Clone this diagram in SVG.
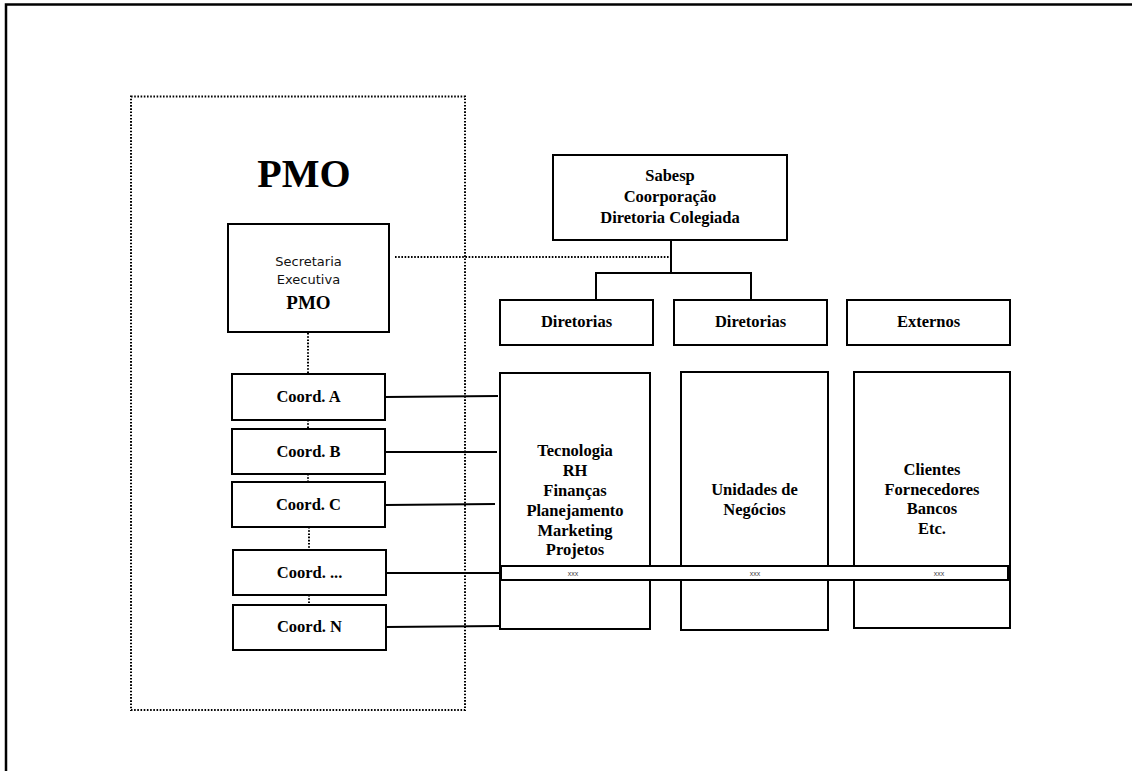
<svg xmlns="http://www.w3.org/2000/svg" width="1132" height="771" viewBox="0 0 1132 771">
  <style>
    .box { fill: #fff; stroke: #000; stroke-width: 2; }
    .solid { fill: none; stroke: #000; stroke-width: 2; }
    .dot { fill: none; stroke: #000; stroke-width: 2; stroke-dasharray: 1.6 1.6; }
    .lbl { font-family: "Liberation Serif", "Times New Roman", serif; font-weight: bold; font-size: 16.5px; text-anchor: middle; fill: #000; }
    .sans { font-family: "DejaVu Sans", Verdana, sans-serif; font-size: 13px; text-anchor: middle; fill: #111; }
    .tiny { font-family: "Liberation Sans", Arial, sans-serif; font-size: 7px; text-anchor: middle; fill: #444; }
  </style>

  <rect width="1132" height="771" fill="#fff"/>

  <!-- page frame (top and left edges) -->
  <path d="M6 771 V4.5 H1132" fill="none" stroke="#000" stroke-width="2.5"/>

  <!-- PMO area -->
  <g id="pmo-area">
    <rect x="131" y="96.5" width="334" height="613.5" class="dot"/>
    <text x="304" y="187" class="lbl" style="font-size:40px">PMO</text>
  </g>

  <!-- connectors -->
  <g id="connectors">
    <!-- Secretaria to corporate board -->
    <line x1="395" y1="257" x2="670" y2="257" class="dot"/>
    <!-- PMO chain -->
    <line x1="308" y1="333" x2="308" y2="374" class="dot"/>
    <line x1="308" y1="420" x2="308" y2="429" class="dot"/>
    <line x1="308" y1="474" x2="308" y2="482" class="dot"/>
    <line x1="309" y1="527" x2="309" y2="550" class="dot"/>
    <line x1="309" y1="595" x2="309" y2="605" class="dot"/>
    <!-- board tree -->
    <path d="M671 240 V273 M596 300 V273 H751 V300" class="solid"/>
    <!-- coordinations to areas -->
    <line x1="385" y1="397" x2="498" y2="396" class="solid"/>
    <line x1="385" y1="452" x2="497" y2="452" class="solid"/>
    <line x1="385" y1="505" x2="495" y2="504" class="solid"/>
    <line x1="386" y1="573" x2="500" y2="573" class="solid"/>
    <line x1="386" y1="627" x2="500" y2="626" class="solid"/>
  </g>

  <g id="secretaria">
    <rect x="228" y="224" width="161" height="108" class="box"/>
    <text x="308.5" y="266" class="sans">Secretaria</text>
    <text x="308.5" y="284" class="sans">Executiva</text>
    <text x="308.5" y="309" class="lbl" style="font-size:19px">PMO</text>
  </g>

  <g id="coord-a">
    <rect x="232" y="374" width="153" height="46" class="box"/>
    <text x="308.5" y="402" class="lbl">Coord. A</text>
  </g>
  <g id="coord-b">
    <rect x="232" y="429" width="153" height="45" class="box"/>
    <text x="308.5" y="457" class="lbl">Coord. B</text>
  </g>
  <g id="coord-c">
    <rect x="232" y="482" width="153" height="45" class="box"/>
    <text x="308.5" y="510" class="lbl">Coord. C</text>
  </g>
  <g id="coord-etc">
    <rect x="233" y="550" width="153" height="45" class="box"/>
    <text x="309.5" y="578" class="lbl">Coord. ...</text>
  </g>
  <g id="coord-n">
    <rect x="233" y="605" width="153" height="45" class="box"/>
    <text x="309.5" y="632" class="lbl">Coord. N</text>
  </g>

  <g id="sabesp">
    <rect x="553" y="155" width="234" height="85" class="box"/>
    <text x="670" y="181" class="lbl">Sabesp</text>
    <text x="670" y="202" class="lbl">Coorporação</text>
    <text x="670" y="223" class="lbl">Diretoria Colegiada</text>
  </g>

  <g id="diretorias-1">
    <rect x="500" y="300" width="153" height="45" class="box"/>
    <text x="576.5" y="327" class="lbl">Diretorias</text>
  </g>
  <g id="diretorias-2">
    <rect x="674" y="300" width="153" height="45" class="box"/>
    <text x="750.5" y="327" class="lbl">Diretorias</text>
  </g>
  <g id="externos">
    <rect x="847" y="300" width="163" height="45" class="box"/>
    <text x="928.5" y="327" class="lbl">Externos</text>
  </g>

  <g id="areas-corporativas">
    <rect x="500" y="373" width="150" height="256" class="box"/>
    <text x="575" y="456" class="lbl">Tecnologia</text>
    <text x="575" y="476" class="lbl">RH</text>
    <text x="575" y="495.5" class="lbl">Finanças</text>
    <text x="575" y="515.5" class="lbl">Planejamento</text>
    <text x="575" y="535.5" class="lbl">Marketing</text>
    <text x="575" y="555" class="lbl">Projetos</text>
  </g>
  <g id="unidades-negocios">
    <rect x="681" y="372" width="147" height="258" class="box"/>
    <text x="754.5" y="495" class="lbl">Unidades de</text>
    <text x="754.5" y="515" class="lbl">Negócios</text>
  </g>
  <g id="externos-lista">
    <rect x="854" y="372" width="156" height="256" class="box"/>
    <text x="932" y="475" class="lbl">Clientes</text>
    <text x="932" y="494.5" class="lbl">Fornecedores</text>
    <text x="932" y="514" class="lbl">Bancos</text>
    <text x="932" y="534" class="lbl">Etc.</text>
  </g>

  <!-- horizontal band across the three columns -->
  <g id="faixa">
    <rect x="501" y="566" width="507" height="14" class="box"/>
    <text x="573" y="576" class="tiny">xxx</text>
    <text x="755" y="576" class="tiny">xxx</text>
    <text x="939" y="576" class="tiny">xxx</text>
  </g>
</svg>
